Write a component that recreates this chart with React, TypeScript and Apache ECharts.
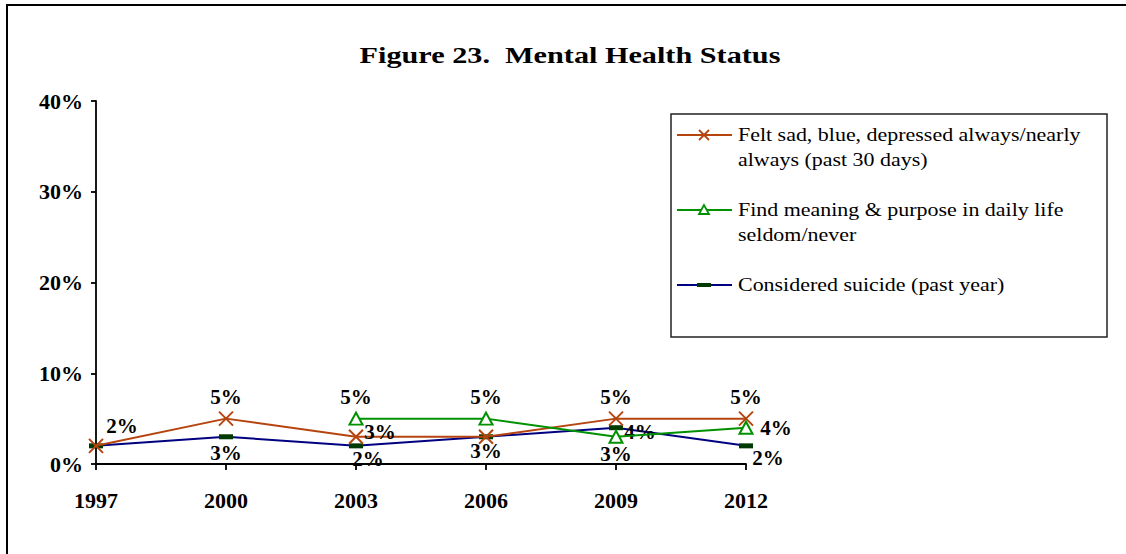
import React, { useEffect, useRef } from "react";
import * as echarts from "echarts";

const years = ["1997", "2000", "2003", "2006", "2009", "2012"];
const feltSad = [2, 5, 3, 3, 5, 5];
const findMeaning = [null, null, 5, 5, 3, 4];
const consideredSuicide = [2, 3, 2, 3, 4, 2];
const seriesNames = [
  "Felt sad, blue, depressed always/nearly always (past 30 days)",
  "Find meaning & purpose in daily life seldom/never",
  "Considered suicide (past year)",
];
const legendLines = [
  ["Felt sad, blue, depressed always/nearly", "always (past 30 days)"],
  ["Find meaning & purpose in daily life", "seldom/never"],
  ["Considered suicide (past year)"],
];
const titleText = "Figure 23.  Mental Health Status";
const yTicks = [0, 10, 20, 30, 40];

// label offsets (dx, dy) per point, null = hidden
const sadOffsets: ([number, number] | null)[] = [[26, -20], [0, -22], [24, -5], null, [0, -22], [0, -22]];
const meaningOffsets: ([number, number] | null)[] = [null, null, [0, -22], [0, -22], [0, 17], [30, 0]];
const suicideOffsets: ([number, number] | null)[] = [null, [0, 16], [12, 13], [0, 14], [24, 4], [22, 12]];

const RED = "#B5440F";
const GREEN = "#009100";
const BLUE = "#000080";
const DKGREEN = "#003A00";
const SERIF = "'Liberation Serif', 'Times New Roman', serif";

function mkData(vals: (number | null)[], offs: ([number, number] | null)[]) {
  return vals.map((v, i) => {
    const o = offs[i];
    return {
      value: v,
      label: o
        ? { show: true, position: "inside", offset: o }
        : { show: false },
    };
  });
}

export default function App() {
  const ref = useRef<HTMLDivElement>(null);
  useEffect(() => {
    if (!ref.current) return;
    const chart = echarts.init(ref.current, null, { renderer: "svg" });
    const labelCommon = {
      formatter: (p: any) => `${p.value}%`,
      fontFamily: SERIF,
      fontWeight: "bold",
      fontSize: 21,
      color: "#000",
    };
    const lx = 677, tx = 738;
    const rows = [135, 210, 285];
    const legendGraphics: any[] = [
      {
        type: "rect",
        shape: { x: 671, y: 114, width: 436, height: 223 },
        style: { fill: "#fff", stroke: "#222", lineWidth: 1.5 },
        z: 10,
      },
    ];
    const lineColors = [RED, GREEN, BLUE];
    rows.forEach((y, i) => {
      legendGraphics.push({
        type: "line",
        shape: { x1: lx, y1: y, x2: 732, y2: y },
        style: { stroke: lineColors[i], lineWidth: 1.8 },
        z: 11,
      });
      legendLines[i].forEach((t, j) => {
        legendGraphics.push({
          type: "text",
          x: tx,
          y: y + j * 24.5,
          scaleX: 1.22,
          style: {
            text: t,
            font: `18px ${SERIF}`,
            fill: "#000",
            verticalAlign: "middle",
            align: "left",
          },
          z: 11,
        });
      });
    });
    // markers in legend
    legendGraphics.push(
      { type: "line", shape: { x1: 699, y1: rows[0] - 5, x2: 709, y2: rows[0] + 5 }, style: { stroke: RED, lineWidth: 1.8 }, z: 12 },
      { type: "line", shape: { x1: 709, y1: rows[0] - 5, x2: 699, y2: rows[0] + 5 }, style: { stroke: RED, lineWidth: 1.8 }, z: 12 },
      { type: "polygon", shape: { points: [[704, rows[1] - 5], [699, rows[1] + 4], [709, rows[1] + 4]] }, style: { fill: "#fff", stroke: GREEN, lineWidth: 1.8 }, z: 12 },
      { type: "rect", shape: { x: 697, y: rows[2] - 2, width: 14, height: 4 }, style: { fill: DKGREEN }, z: 12 }
    );

    chart.setOption({
      animation: false,
      backgroundColor: "#fff",
      grid: { left: 96, right: 380, top: 101, bottom: 90 },
      xAxis: {
        type: "category",
        data: years,
        boundaryGap: false,
        axisLine: { lineStyle: { color: "#000", width: 1.8 } },
        axisTick: { show: true, length: 6, alignWithLabel: true, lineStyle: { color: "#000", width: 1.8 } },
        axisLabel: { margin: 25, fontFamily: SERIF, fontWeight: "bold", fontSize: 22, color: "#000" },
      },
      yAxis: {
        type: "value",
        min: yTicks[0],
        max: yTicks[yTicks.length - 1],
        interval: 10,
        splitLine: { show: false },
        axisLine: { show: true, lineStyle: { color: "#000", width: 1.8 } },
        axisTick: { show: true, length: 5, lineStyle: { color: "#000", width: 1.8 } },
        axisLabel: { margin: 13, fontFamily: SERIF, fontWeight: "bold", fontSize: 22, color: "#000", formatter: "{value}%" },
      },
      series: [
        {
          name: seriesNames[0],
          type: "line",
          data: mkData(feltSad, sadOffsets),
          lineStyle: { color: RED, width: 2 },
          symbol: "path://M0,0L10,10M10,0L0,10",
          symbolSize: 14,
          itemStyle: { color: RED, borderColor: RED, borderWidth: 2 },
          label: labelCommon,
          z: 3,
        },
        {
          name: seriesNames[1],
          type: "line",
          data: mkData(findMeaning, meaningOffsets),
          lineStyle: { color: GREEN, width: 2 },
          symbol: "triangle",
          symbolSize: [13, 12],
          itemStyle: { color: "#fff", borderColor: GREEN, borderWidth: 2 },
          label: labelCommon,
          z: 4,
        },
        {
          name: seriesNames[2],
          type: "line",
          data: mkData(consideredSuicide, suicideOffsets),
          lineStyle: { color: BLUE, width: 2 },
          symbol: "rect",
          symbolSize: [14, 5],
          itemStyle: { color: DKGREEN, borderWidth: 0 },
          label: labelCommon,
          z: 2,
        },
      ],
      graphic: [
        {
          type: "rect",
          shape: { x: 7, y: 5, width: 1200, height: 600 },
          style: { fill: "none", stroke: "#000", lineWidth: 2 },
          z: 0,
          silent: true,
        },
        {
          type: "text",
          x: 570,
          y: 55,
          scaleX: 1.26,
          style: {
            text: titleText,
            font: `bold 24px ${SERIF}`,
            fill: "#000",
            align: "center",
            verticalAlign: "middle",
          },
          z: 5,
        },
        ...legendGraphics,
      ],
    });
    return () => chart.dispose();
  }, []);
  return (
    <div
      ref={ref}
      style={{ position: "absolute", left: 0, top: 0, width: 1126, height: 554, overflow: "hidden" }}
    />
  );
}
